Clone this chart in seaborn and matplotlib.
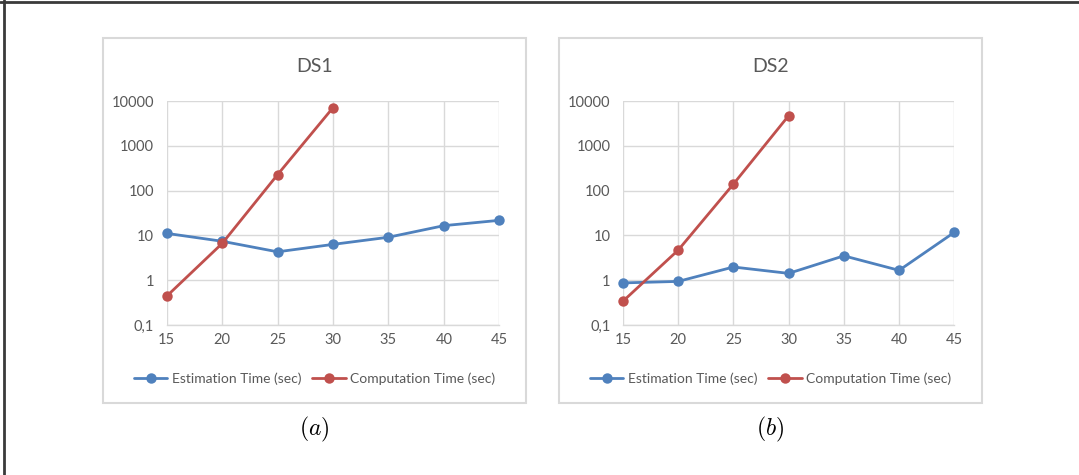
import matplotlib
matplotlib.use("Agg")
import matplotlib.pyplot as plt
import seaborn as sns
import pandas as pd
from matplotlib.patches import Rectangle
from matplotlib.lines import Line2D
from matplotlib.ticker import FixedLocator, FuncFormatter

# data
sizes = [15, 20, 25, 30, 35, 40, 45]
comp_sizes = [15, 20, 25, 30]
ds1_estimation = [11.1, 7.4, 4.3, 6.3, 9.1, 16.5, 21.7]
ds1_computation = [0.44, 6.6, 227, 7100]
ds2_estimation = [0.87, 0.94, 1.97, 1.42, 3.5, 1.66, 11.7]
ds2_computation = [0.34, 4.7, 140, 4700]
titles = ["DS1", "DS2"]
captions = ["$(a)$", "$(b)$"]
est_label = "Estimation Time (sec)"
comp_label = "Computation Time (sec)"
yticks = [0.1, 1, 10, 100, 1000, 10000]

sns.set_theme(style="white")
plt.rcParams["font.family"] = ["Lato", "DejaVu Sans"]
plt.rcParams["mathtext.fontset"] = "cm"

W, H = 1079, 475
fig = plt.figure(figsize=(W / 100, H / 100), dpi=100)

def fx(px):
    return px / W

def fy(py):
    return 1 - py / H

# outer frame (top and left edges)
fig.add_artist(Line2D([0, 1], [fy(2), fy(2)], color="#3a3a3a", lw=2))
fig.add_artist(Line2D([fx(4), fx(4)], [0, 1], color="#3a3a3a", lw=2))

grey = "#d9d9d9"
text_col = "#595959"
palette = {est_label: "#4f81bd", comp_label: "#c0504d"}

panels = [
    (ds1_estimation, ds1_computation, 103, 526, 166.7, 499.3),
    (ds2_estimation, ds2_computation, 559, 982, 623, 954.3),
]

for i, (est, comp, bx0, bx1, ax0, ax1) in enumerate(panels):
    fig.add_artist(Rectangle((fx(bx0), fy(403)), fx(bx1 - bx0), (403 - 38) / H,
                             transform=fig.transFigure, fill=False,
                             edgecolor=grey, lw=1.5))
    ax = fig.add_axes([fx(ax0), fy(325), fx(ax1 - ax0), (325 - 101) / H])
    df = pd.concat([
        pd.DataFrame({"size": sizes, "time": est, "series": est_label}),
        pd.DataFrame({"size": comp_sizes, "time": comp, "series": comp_label}),
    ])
    sns.lineplot(data=df, x="size", y="time", hue="series", palette=palette,
                 marker="o", markersize=7.5, markeredgewidth=0, linewidth=2,
                 ax=ax, legend=True, clip_on=False)
    ax.set_yscale("log")
    ax.set_xlim(15, 45)
    ax.set_ylim(0.1, 10000)
    ax.xaxis.set_major_locator(FixedLocator(sizes))
    ax.yaxis.set_major_locator(FixedLocator(yticks))
    ax.yaxis.set_minor_locator(FixedLocator([]))
    ax.yaxis.set_major_formatter(FuncFormatter(
        lambda v, p: ("%g" % v).replace(".", ",")))
    ax.grid(True, color=grey, lw=1)
    for s in ["top", "right", "left"]:
        ax.spines[s].set_visible(False)
    ax.spines["bottom"].set_color(grey)
    ax.spines["bottom"].set_linewidth(1)
    ax.tick_params(axis="both", length=0, labelsize=10.5, colors=text_col, pad=6)
    ax.tick_params(axis="y", pad=9)
    ax.set_xlabel("")
    ax.set_ylabel("")
    ax.set_facecolor("none")

    handles, labels = ax.get_legend_handles_labels()
    ax.legend(handles, labels, loc="center", ncol=2, frameon=False,
              bbox_to_anchor=(fx((bx0 + bx1) / 2), fy(379)),
              bbox_transform=fig.transFigure, fontsize=10,
              handlelength=2.4, handletextpad=0.3, columnspacing=0.8,
              labelcolor=text_col)

    fig.text(fx((bx0 + bx1) / 2), fy(67), titles[i], ha="center", va="center",
             fontsize=14, color=text_col)
    fig.text(fx((bx0 + bx1) / 2), fy(429), captions[i], ha="center",
             va="center", fontsize=17, color="black")

fig.savefig("out.png", dpi=100)
